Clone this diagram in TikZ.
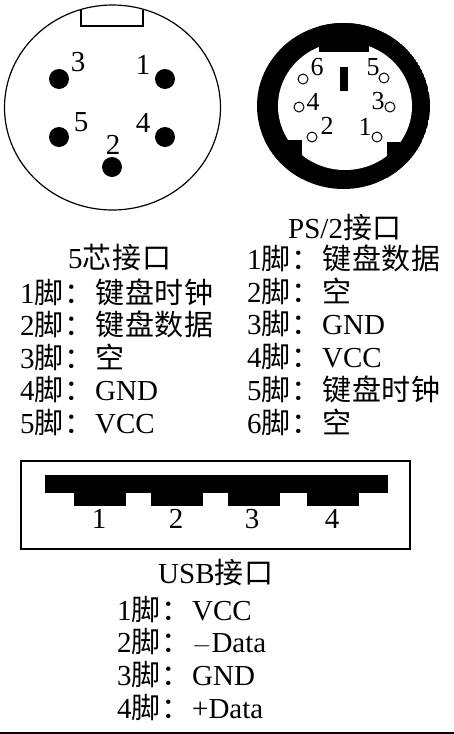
\documentclass[tikz,border=0pt]{standalone}
\usepackage{fontspec}
\setmainfont{Liberation Serif}
\newfontfamily\cjk{Noto Sans CJK SC}[Scale=1,LetterSpace=3]
\usetikzlibrary{positioning}
\newcommand{\jiao}{{\cjk 脚：}}
\newcommand{\jk}{{\cjk 接口}}
\tikzset{
  lbl/.style={font=\fontsize{29}{29}\selectfont, inner sep=0pt, anchor=base west},
  num/.style={font=\fontsize{29}{29}\selectfont, inner sep=0pt},
  smallnum/.style={font=\fontsize{26}{26}\selectfont, inner sep=0pt},
  pinfull/.style={circle, fill=black, minimum size=20pt, inner sep=0pt},
  pinopen/.style={circle, draw=black, line width=1pt, fill=white, minimum size=10pt, inner sep=0pt}
}
\begin{document}
\begin{tikzpicture}[x=1pt, y=-1pt]
  \useasboundingbox (0,0) rectangle (454,734);

  % 5 pin socket
  \draw[line width=1.2pt] (112.5,107.5) ellipse [x radius=108, y radius=102.5];
  \draw[line width=1.2pt] (81,9.5) -- (81,26) -- (143,26) -- (143,9.5);
  \foreach \n/\x/\y/\lx/\ly in {1/165/79/143/65, 2/112/167/113/145, 3/59/79/78/62, 4/165/137/143/123, 5/59/137/81/122}{
    \node[pinfull] (five\n) at (\x,\y) {};
    \node[num] (fivelabel\n) at (\lx,\ly) {\n};
  };

  % ps/2 socket
  \begin{scope}
    \clip (343.5,106) ellipse [x radius=86.5, y radius=83];
    \fill[black] (343.5,106) ellipse [x radius=86.5, y radius=83];
    \fill[white] (345,106) ellipse [x radius=67, y radius=64];
    \fill[black] (319,20) rectangle (369,52);
    \fill[black] (260,140) rectangle (302,195);
    \fill[black] (387,142) rectangle (430,195);
  \end{scope}
  \fill[black] (340,67) rectangle (348,91);
  \foreach \n/\x/\y/\lx/\ly in {1/377/137/365/127, 2/312/137/327/126, 3/390/107/378/101, 4/299/107/313/102, 5/384/78/373/67, 6/303/79/317/67}{
    \node[pinopen] (ps\n) at (\x,\y) {};
    \node[smallnum] (pslabel\n) at (\lx,\ly) {\n};
  };

  % pin lists
  \node[lbl] (fivetitle) at (68,268) {5{\cjk 芯}\jk};
  \foreach \n/\y/\t in {1/303/{\cjk 键盘时钟}, 2/335/{\cjk 键盘数据}, 3/368/{\cjk 空}, 4/400/GND, 5/433/VCC}{
    \node[lbl] (fiveline\n) at (20,\y) {\n\jiao};
    \node[lbl] (fivevalue\n) at (95,\y) {\t};
  };
  \node[lbl] (pstitle) at (288,238) {PS/2\jk};
  \foreach \n/\y/\t in {1/269/{\cjk 键盘数据}, 2/302/{\cjk 空}, 3/334/GND, 4/367/VCC, 5/400/{\cjk 键盘时钟}, 6/433/{\cjk 空}}{
    \node[lbl] (psline\n) at (247,\y) {\n\jiao};
    \node[lbl] (psvalue\n) at (322,\y) {\t};
  };

  % usb socket
  \draw[line width=1.2pt] (21,461) rectangle (410,549);
  \fill[black] (45,475) rectangle (388,493);
  \foreach \n/\x/\lx in {1/74/99, 2/151/176, 3/228/252, 4/307/332}{
    \fill[black] (\x,490) rectangle (\x+52,506);
    \node[num] (usblabel\n) at (\lx,519) {\n};
  };
  \node[lbl] (usbtitle) at (158,583) {USB\jk};
  \foreach \n/\y/\t in {1/620/VCC, 2/652/$-$Data, 3/685/GND, 4/718/+Data}{
    \node[lbl] (usbline\n) at (117,\y) {\n\jiao};
    \node[lbl] (usbvalue\n) at (192,\y) {\t};
  };
  \draw[line width=1.5pt] (0,733) -- (454,733);
\end{tikzpicture}
\end{document}
